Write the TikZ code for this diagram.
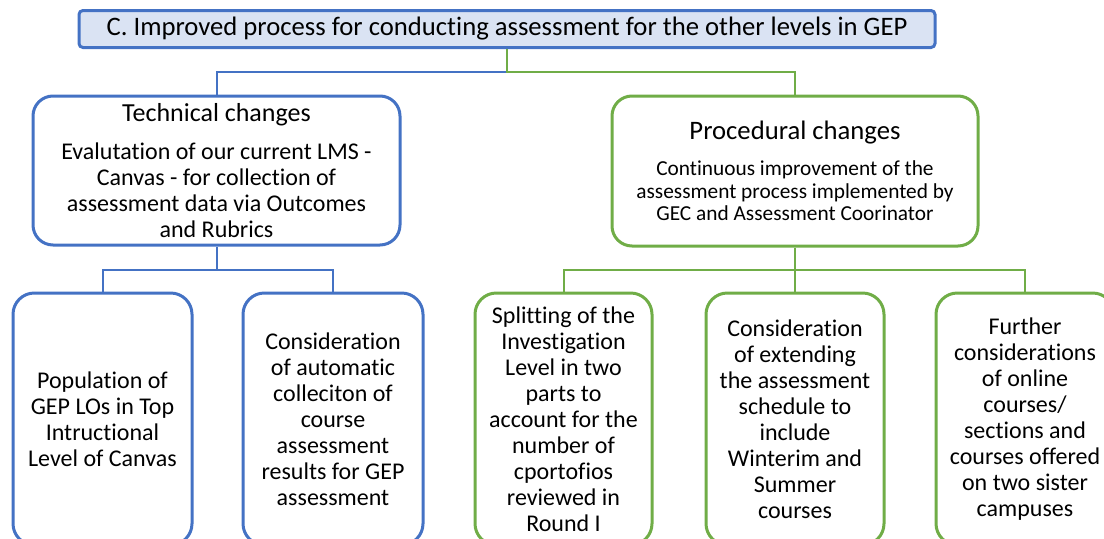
\documentclass[tikz,border=0pt]{standalone}
\usepackage{fontspec}
\setmainfont{Carlito}[RawFeature={-liga;-clig;-calt;-dlig}]
\newdimen\px
\px=0.75pt
\definecolor{tech edge}{HTML}{4472C4}
\definecolor{proc edge}{HTML}{70AD47}
\definecolor{head area}{HTML}{DAE3F3}
\tikzset{
  header/.style={draw=tech edge, fill=head area, line width=2.25pt, rounded corners=3pt,
    minimum width=856\px, minimum height=37\px, inner sep=0pt, font=\fontsize{20}{22}\selectfont},
  branch/.style={line width=2.25pt, fill=white, rounded corners=15pt, align=center, inner sep=0pt},
  leaf/.style={line width=2.25pt, fill=white, rounded corners=16pt, align=center, inner sep=0pt,
    minimum height=252\px, font=\fontsize{18}{19.5}\selectfont},
  techwire/.style={draw=tech edge, line width=1.5pt},
  procwire/.style={draw=proc edge, line width=1.5pt}
}

\begin{document}
\begin{tikzpicture}[x=\px, y=-\px]
  \useasboundingbox (0,0) rectangle (1104,539);

  % goal
  \node[header] (goal) at (507,29) {C. Improved process for conducting assessment for the other levels in GEP};

  % the two kinds of change
  \node[branch, draw=tech edge, minimum width=367\px, minimum height=149\px,
    font=\fontsize{18}{19.5}\selectfont] (tech) at (216.5,170.5)
    {{\fontsize{19.5}{19.5}\selectfont Technical changes}\\[9pt]
     Evalutation of our current LMS -\\Canvas - for collection of\\assessment data via Outcomes\\and Rubrics};
  \node[branch, draw=proc edge, minimum width=366\px, minimum height=150\px,
    font=\fontsize{16}{17}\selectfont] (proc) at (795,171)
    {{\fontsize{20}{21}\selectfont Procedural changes}\\[10pt]
     Continuous improvement of the\\assessment process implemented by\\GEC and Assessment Coorinator};

  % technical leaves
  \node[leaf, draw=tech edge, minimum width=179\px] (pop) at (102.5,419)
    {Population of\\GEP LOs in Top\\Intructional\\Level of Canvas};
  \node[leaf, draw=tech edge, minimum width=180\px] (auto) at (333,419)
    {Consideration\\of automatic\\colleciton of\\course\\assessment\\results for GEP\\assessment};

  % procedural leaves
  \node[leaf, draw=proc edge, minimum width=177\px] (split) at (563.5,419)
    {Splitting of the\\Investigation\\Level in two\\parts to\\account for the\\number of\\cportofios\\reviewed in\\Round I};
  \node[leaf, draw=proc edge, minimum width=178\px] (extend) at (795,419)
    {Consideration\\of extending\\the assessment\\schedule to\\include\\Winterim and\\Summer\\courses};
  \node[leaf, draw=proc edge, minimum width=178\px] (further) at (1025,419)
    {Further\\considerations\\of online\\courses/\\sections and\\courses offered\\on two sister\\campuses};

  % wires
  \coordinate (fork) at (507,72);
  \coordinate (techfork) at (216.5,270);
  \coordinate (procfork) at (795,270);
  \draw[techwire] (fork) -| (tech.north);
  \draw[procwire] (goal.south) -- (fork) -| (proc.north);
  \draw[techwire] (tech.south) -- (techfork);
  \draw[techwire] (pop.north) |- (techfork) -| (auto.north);
  \draw[procwire] (proc.south) -- (extend.north);
  \draw[procwire] (split.north) |- (procfork) -| (further.north);
\end{tikzpicture}
\end{document}
